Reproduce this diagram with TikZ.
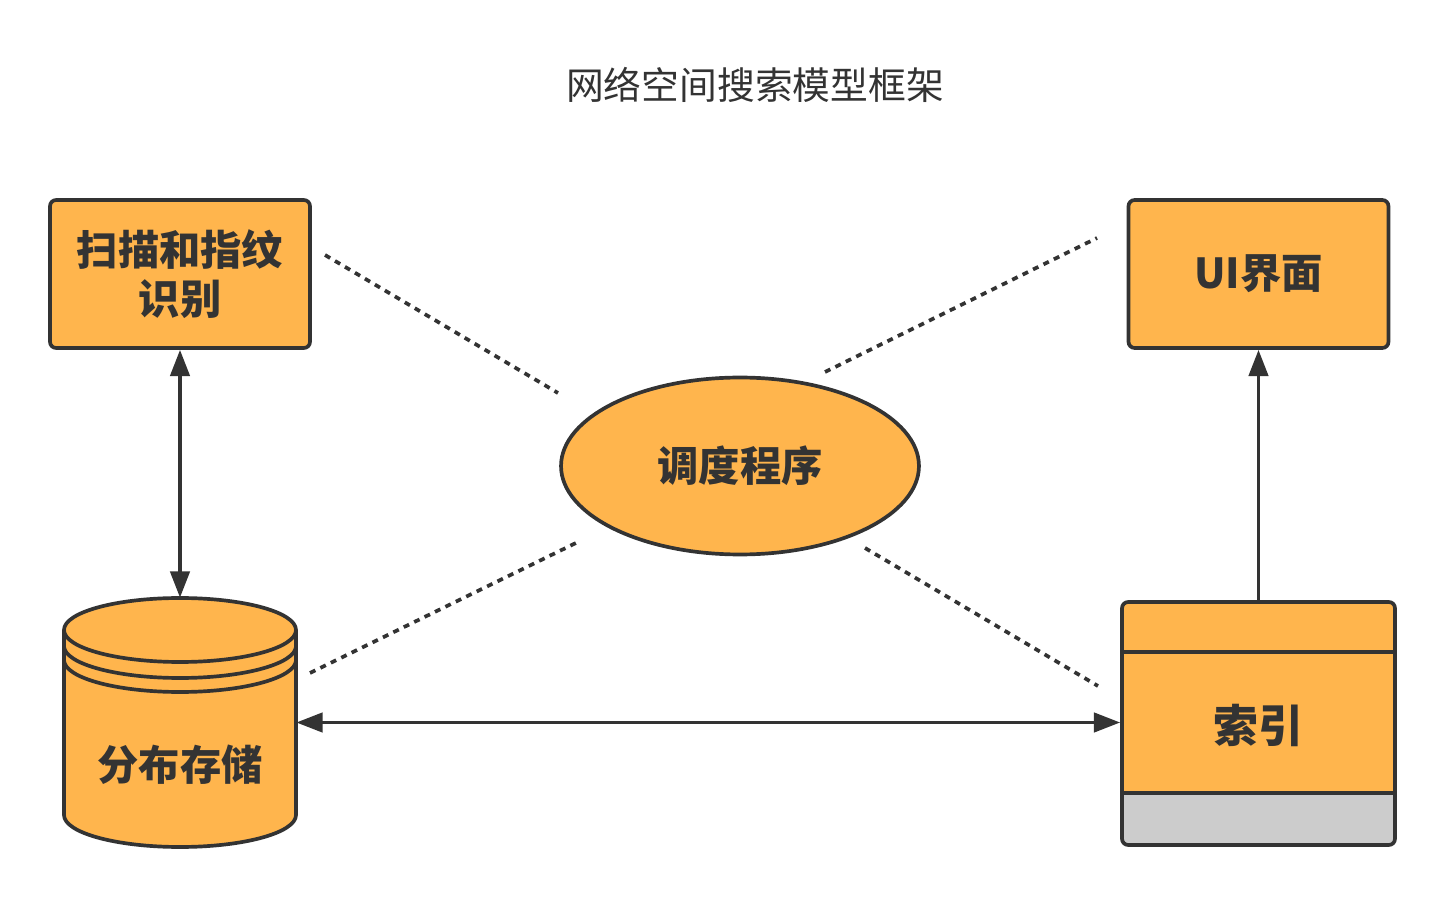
\documentclass[tikz,border=0pt]{standalone}
\usepackage{fontspec}
\newfontfamily\cjk{Noto Sans CJK SC}
\usetikzlibrary{arrows.meta, shapes.geometric}

\definecolor{boxorange}{HTML}{FFB54D}
\definecolor{inkgrey}{HTML}{333333}
\definecolor{footgrey}{HTML}{CCCCCC}

\begin{document}
\begin{tikzpicture}[
    x=0.02cm,
    y=-0.02cm,
    >={Triangle[length=15pt, width=11pt]},
    line/.style={draw=inkgrey, line width=2.1pt},
    link/.style={line, <->},
    dots/.style={draw=inkgrey, line width=2.1pt, dash pattern=on 3.4pt off 3.2pt},
    box/.style={line, rounded corners=3.5pt, text=inkgrey, align=center, inner sep=0pt,
                font=\cjk\bfseries\fontsize{23.5}{28}\selectfont},
    title/.style={text=inkgrey, font=\cjk\fontsize{21.5}{26}\selectfont}
]
\useasboundingbox (0,0) rectangle (1445,898);

% =========================
% Title
% =========================
\node[title] (head) at (755,85) {网络空间搜索模型框架};

% =========================
% Boxes on top
% =========================
\node[box, fill=boxorange, minimum width=5.2cm, minimum height=2.96cm] (scan) at (180,274)
    {扫描和指纹\\识别};
\node[box, fill=boxorange, minimum width=5.2cm, minimum height=2.96cm] (ui) at (1258.5,274)
    {UI界面};

% Scheduler
\node[box, ellipse, fill=boxorange, minimum width=7.16cm, minimum height=3.54cm] (sched) at (740,466)
    {调度程序};

% =========================
% Distributed storage (cylinder)
% =========================
\fill[boxorange] (64,630) rectangle (296,815);
\filldraw[line, fill=boxorange] (180,815) ellipse[x radius=116, y radius=32];
\fill[boxorange] (64,630) rectangle (296,815);
\draw[line] (64,630) -- (64,815) (296,630) -- (296,815);
\filldraw[line, fill=boxorange] (180,630) ellipse[x radius=116, y radius=32];
\begin{scope}
    \clip (40,648) rectangle (320,720);
    \draw[line] (180,646) ellipse[x radius=116, y radius=32];
\end{scope}
\begin{scope}
    \clip (40,662) rectangle (320,720);
    \draw[line] (180,660) ellipse[x radius=116, y radius=32];
\end{scope}
\node[minimum width=4.64cm, minimum height=4.98cm, inner sep=0pt] (store) at (180,722.5) {};
\node[box, draw=none] (storetxt) at (180,765) {分布存储};

% =========================
% Index
% =========================
\fill[boxorange, rounded corners=3.5pt] (1122,602) rectangle (1395,845);
\begin{scope}
    \clip[rounded corners=3.5pt] (1122,602) rectangle (1395,845);
    \fill[footgrey] (1122,793) rectangle (1395,845);
\end{scope}
\draw[line] (1122,652) -- (1395,652) (1122,793) -- (1395,793);
\node[box, minimum width=5.46cm, minimum height=4.86cm, text depth=-6pt,
      font=\cjk\bfseries\fontsize{25.5}{30}\selectfont] (index) at (1258.5,723.5) {索引};

% =========================
% Connectors
% =========================
\draw[link] (scan.south) -- (store.north);
\draw[link] (store.east) -- (store.east -| index.west);
\draw[line, ->] (index.north) -- (index.north |- ui.south);

% Dotted spokes
\coordinate (d1a) at (325,255);  \coordinate (d1b) at (558,393);
\coordinate (d2a) at (825,372);  \coordinate (d2b) at (1097,238);
\coordinate (d3a) at (310,673);  \coordinate (d3b) at (580,541);
\coordinate (d4a) at (865,548);  \coordinate (d4b) at (1098,686);
\draw[dots] (d1a) -- (d1b);
\draw[dots] (d2a) -- (d2b);
\draw[dots] (d3a) -- (d3b);
\draw[dots] (d4a) -- (d4b);

\end{tikzpicture}
\end{document}
